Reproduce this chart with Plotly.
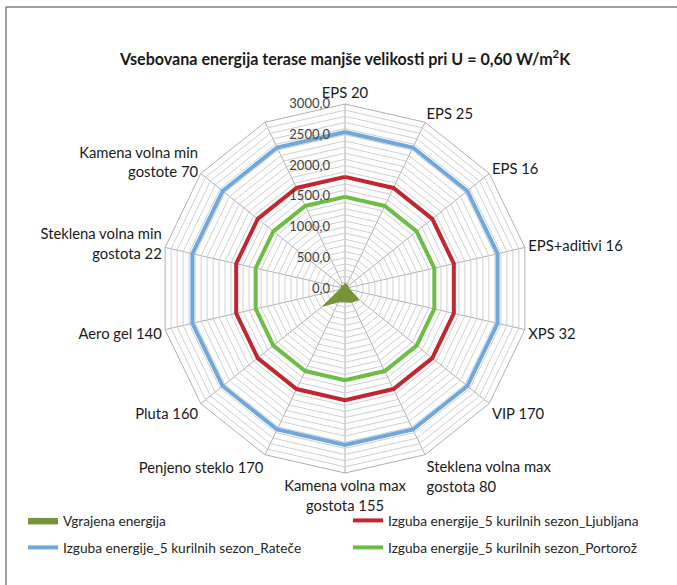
import plotly.graph_objects as go

categories = [
    "EPS 20", "EPS 25", "EPS 16", "EPS+aditivi 16", "XPS 32", "VIP 170",
    "Steklena volna max<br>gostota 80", "Kamena volna max<br>gostota 155",
    "Penjeno steklo 170", "Pluta 160", "Aero gel 140",
    "Steklena volna min<br>gostota 22", "Kamena volna min<br>gostote 70", " ",
]
vgrajena = [90, 70, 60, 60, 80, 290, 250, 220, 240, 460, 90, 60, 80, 40]
ljubljana = [1815] * 14
ratece = [2545] * 14
portoroz = [1490] * 14

radial_ticks = list(range(0, 3001, 100))
radial_labels = [f"{v},0" if v % 500 == 0 else "" for v in radial_ticks]

W, H = 677, 585
FONT = "Lato, Open Sans, sans-serif"

def closed(vals):
    return vals + vals[:1]

theta = closed(categories)

fig = go.Figure()
fig.add_trace(go.Scatterpolar(
    r=closed(vgrajena), theta=theta, mode="lines", fill="toself",
    fillcolor="#77933C", line=dict(color="#77933C", width=1),
    name="Vgrajena energija", legend="legend", showlegend=True))
fig.add_trace(go.Scatterpolar(
    r=closed(ljubljana), theta=theta, mode="lines",
    line=dict(color="#C3262E", width=4),
    name="Izguba energije_5 kurilnih sezon_Ljubljana", legend="legend2"))
fig.add_trace(go.Scatterpolar(
    r=closed(ratece), theta=theta, mode="lines",
    line=dict(color="#6FA8DC", width=4),
    name="Izguba energije_5 kurilnih sezon_Rateče", legend="legend3"))
fig.add_trace(go.Scatterpolar(
    r=closed(portoroz), theta=theta, mode="lines",
    line=dict(color="#6DBE45", width=4),
    name="Izguba energije_5 kurilnih sezon_Portorož", legend="legend4"))

cx, cy, R = 345, 288.5, 184.5

def leg(xpx, ytop):
    return dict(orientation="h", x=xpx / W, xanchor="left", visible=True,
                y=(H - ytop) / H, yanchor="top", itemwidth=30,
                font=dict(size=13.7, color="#262626"),
                bgcolor="rgba(0,0,0,0)")

fig.update_layout(
    width=W, height=H,
    margin=dict(l=0, r=0, t=0, b=0),
    showlegend=True,
    paper_bgcolor="white",
    font=dict(family=FONT, size=13, color="#262626"),
    polar=dict(
        domain=dict(x=[(cx - R) / W, (cx + R) / W],
                    y=[(H - cy - R) / H, (H - cy + R) / H]),
        bgcolor="white",
        gridshape="linear",
        radialaxis=dict(
            range=[0, 3000], tickvals=radial_ticks, ticktext=radial_labels,
            angle=90, tickangle=90, side="counterclockwise",
            showline=False, ticks="outside", ticklen=10,
            tickcolor="rgba(0,0,0,0)",
            gridcolor="#D0D0D0", gridwidth=1,
            tickfont=dict(size=13, color="#404040"),
        ),
        angularaxis=dict(
            direction="clockwise", rotation=90,
            showline=True, linecolor="#B0B0B0", linewidth=1,
            gridcolor="#B0B0B0", gridwidth=1, ticks="",
            tickfont=dict(size=14.8, color="#1a1a1a"),
        ),
    ),
    legend=leg(23, 505),
    legend2=leg(348, 505),
    legend3=leg(23, 532),
    legend4=leg(348, 532),
    annotations=[dict(
        text="<b>Vsebovana energija terase manjše velikosti pri U = 0,60 W/m<sup>2</sup>K</b>",
        x=cx / W, y=(H - 58) / H, xref="paper", yref="paper",
        xanchor="center", yanchor="middle", showarrow=False,
        font=dict(size=16.1, color="#1a1a1a"))],
    shapes=[
        dict(type="line", xref="paper", yref="paper",
             x0=6 / W, x1=1, y0=(H - 7) / H, y1=(H - 7) / H,
             line=dict(color="#808080", width=1.5)),
        dict(type="line", xref="paper", yref="paper",
             x0=6 / W, x1=6 / W, y0=0, y1=(H - 7) / H,
             line=dict(color="#808080", width=1.5)),
    ],
)

fig.write_html("out.html",
               config={"displayModeBar": False},
               post_script="document.body.style.margin='0px';document.body.style.overflow='hidden';")
